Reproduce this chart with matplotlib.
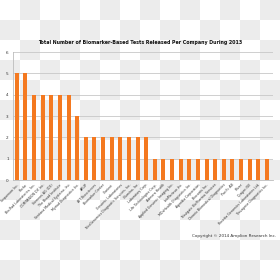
import numpy as np
import matplotlib.pyplot as plt

companies = [
    "Sequenom Inc.", "Roche", "Bio-Rad Laboratories, Inc.", "COMPANION DX Inc.",
    "Siemens AG (DE)", "The Broad Institute", "Ventana Medical Systems, Inc.",
    "Myriad Diagnostics Inc.", "ARUP", "AIT Biosciences", "Biomarker Center",
    "Clarient", "Genomic Laboratories", "NeoGenomics Diagnostic Services, Inc.",
    "Illumina, Inc.", "Laboratory Corp.", "Life Technologies Corp.",
    "Admera Health", "Applied Genomic Imaging Inc.", "bioMerieux Inc.",
    "MDxHealth Diagnostics Inc.", "Agendia Corporation", "Biocartis Inc.",
    "Navigate BioPharma Services", "Chronix Biomedical Diagnostics", "Pacific AB",
    "Pfizer", "Qiagen NV", "Rosetta Genomics Laboratories Ltd.",
    "Trovagene Diagnostics Inc.",
]
tests = [5, 5, 4, 4, 4, 4, 4, 3, 2, 2, 2, 2, 2, 2, 2, 2,
         1, 1, 1, 1, 1, 1, 1, 1, 1, 1, 1, 1, 1, 1]

fig = plt.figure(figsize=(2.8, 2.8), dpi=100)

# checkerboard backdrop seen in the reference image
bg = fig.add_axes([0, 0, 1, 1], zorder=-10)
board = np.indices((14, 14)).sum(axis=0) % 2
bg.imshow(board, cmap=plt.matplotlib.colors.ListedColormap(["#ffffff", "#ececec"]),
          interpolation="nearest", aspect="auto")
bg.axis("off")

ax = fig.add_axes([0.046, 0.357, 0.929, 0.457])
ax.set_facecolor("none")
x = np.arange(len(tests))
ax.bar(x, tests, width=0.47, color="#f47920", zorder=3)

ax.set_xlim(-0.46, 29.7)
ax.set_ylim(0, 6)
ax.set_yticks(range(7))
ax.tick_params(axis="y", labelsize=3, length=0, pad=3, colors="#333333")
ax.set_xticks(x)
ax.set_xticklabels(companies, rotation=45, ha="right", rotation_mode="anchor",
                   fontsize=2.3, color="#333333")
ax.tick_params(axis="x", length=0, pad=2)
ax.grid(axis="y", color="#c8c8c8", linewidth=0.6, zorder=0)
for s in ["top", "right"]:
    ax.spines[s].set_visible(False)
ax.spines["left"].set_color("#bbbbbb")
ax.spines["bottom"].set_color("#bbbbbb")
ax.spines["left"].set_linewidth(0.6)
ax.spines["bottom"].set_linewidth(0.6)

fig.text(0.5, 0.848, "Total Number of Biomarker-Based Tests Released Per Company During 2013",
         ha="center", va="center", fontsize=3.4, fontweight="bold", color="#111111")
fig.text(0.985, 0.157, "Copyright \u00a9 2014 Amplion Research Inc.",
         ha="right", va="center", fontsize=3.0, color="#333333")

fig.savefig("out.png", dpi=100)
